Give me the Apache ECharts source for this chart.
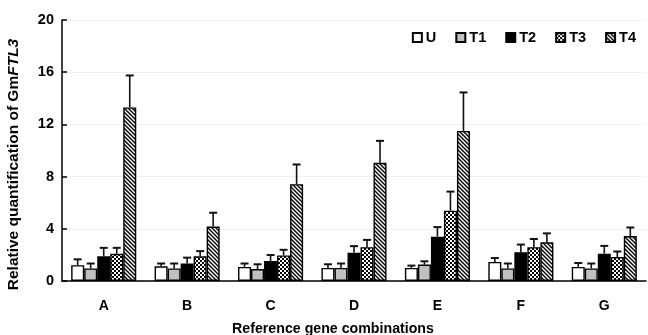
<!DOCTYPE html>
<html>
<head>
<meta charset="utf-8">
<script src="https://cdn.jsdelivr.net/npm/echarts@6/dist/echarts.min.js"></script>
<style>
  html, body { margin: 0; padding: 0; background: #fff; }
  #chart { width: 648px; height: 335px; }
</style>
</head>
<body>
<div id="chart"></div>
<script>
// categorias e valores
const categorias = ["A", "B", "C", "D", "E", "F", "G"];
const nomesSeries = ["U", "T1", "T2", "T3", "T4"];
const valoresU  = [1.21, 1.13, 1.08, 1.00, 1.00, 1.46, 1.08];
const valoresT1 = [0.96, 0.96, 0.91, 1.00, 1.26, 0.96, 0.96];
const valoresT2 = [1.89, 1.34, 1.53, 2.16, 3.40, 2.21, 2.09];
const valoresT3 = [2.09, 1.89, 1.96, 2.59, 5.39, 2.59, 1.83];
const valoresT4 = [13.3, 4.17, 7.42, 9.06, 11.5, 2.97, 3.45];
// topo das barras de erro
const erroU  = [1.66, 1.34, 1.34, 1.28, 1.18, 1.76, 1.38];
const erroT1 = [1.34, 1.34, 1.28, 1.34, 1.51, 1.34, 1.34];
const erroT2 = [2.54, 1.79, 1.99, 2.67, 4.13, 2.79, 2.69];
const erroT3 = [2.54, 2.29, 2.39, 3.15, 6.85, 3.22, 2.26];
const erroT4 = [15.75, 5.23, 8.93, 10.74, 14.45, 3.65, 4.10];
const ticksY = [0, 4, 8, 12, 16, 20];

const valores = [valoresU, valoresT1, valoresT2, valoresT3, valoresT4];
const erros = [erroU, erroT1, erroT2, erroT3, erroT4];

// padrões de preenchimento
function padraoXadrez() {
  const c = document.createElement("canvas");
  c.width = 4; c.height = 4;
  const ctx = c.getContext("2d");
  ctx.fillStyle = "#fff"; ctx.fillRect(0, 0, 4, 4);
  ctx.fillStyle = "#000";
  ctx.fillRect(0, 0, 2, 2);
  ctx.fillRect(2, 2, 2, 2);
  return { image: c, repeat: "repeat" };
}
function padraoListras() {
  const c = document.createElement("canvas");
  c.width = 4; c.height = 4;
  const ctx = c.getContext("2d");
  ctx.fillStyle = "#fff"; ctx.fillRect(0, 0, 4, 4);
  ctx.strokeStyle = "#000"; ctx.lineWidth = 1.4;
  ctx.beginPath();
  ctx.moveTo(-1, -1); ctx.lineTo(5, 5);
  ctx.moveTo(-1, 3); ctx.lineTo(1, 5);
  ctx.moveTo(3, -1); ctx.lineTo(5, 1);
  ctx.stroke();
  return { image: c, repeat: "repeat" };
}
const cores = ["#ffffff", "#c0c0c0", "#000000", padraoXadrez(), padraoListras()];

const fonte = "Liberation Sans";
const gapCategoria = 0.22;

const seriesBarras = nomesSeries.map((nome, i) => ({
  name: nome,
  type: "bar",
  data: valores[i],
  barGap: "0%",
  barCategoryGap: "22%",
  itemStyle: { color: cores[i], borderColor: "#000", borderWidth: 1.4 },
  emphasis: { disabled: true },
  z: 2
}));

const seriesErros = nomesSeries.map((nome, i) => ({
  type: "custom",
  name: nome + "-erro",
  data: categorias.map((c, j) => [j, valores[i][j], erros[i][j]]),
  z: 3,
  silent: true,
  renderItem: function (params, api) {
    const banda = api.size([1, 0])[0];
    const larguraBarra = banda * (1 - gapCategoria) / 5;
    const desloc = (i - 2) * larguraBarra;
    const base = api.coord([api.value(0), api.value(1)]);
    const topo = api.coord([api.value(0), api.value(2)]);
    const x = base[0] + desloc;
    const estilo = { stroke: "#111", lineWidth: 1.6 };
    return {
      type: "group",
      children: [
        { type: "line", shape: { x1: x, y1: base[1], x2: x, y2: topo[1] }, style: estilo },
        { type: "line", shape: { x1: x - 4, y1: topo[1], x2: x + 4, y2: topo[1] }, style: { stroke: "#111", lineWidth: 2 } }
      ]
    };
  }
}));

const chart = echarts.init(document.getElementById("chart"));
chart.setOption({
  animation: false,
  textStyle: { fontFamily: fonte },
  grid: { left: 62, right: 2, top: 20, bottom: 54, outerBoundsMode: "none", containLabel: false },
  legend: {
    data: nomesSeries.map((n) => ({ name: n, icon: "rect" })),
    top: 25,
    right: 7,
    itemWidth: 9,
    itemHeight: 9,
    itemGap: 19,
    selectedMode: false,
    textStyle: { fontFamily: fonte, fontWeight: "bold", fontSize: 14.5, color: "#000", padding: [0, 0, 0, -1] }
  },
  xAxis: {
    type: "category",
    data: categorias,
    name: "Reference gene combinations",
    nameLocation: "middle",
    nameGap: 41,
    nameTextStyle: { fontFamily: fonte, fontWeight: "bold", fontSize: 14.2, color: "#000", padding: [0, 42, 0, 0] },
    axisLine: { lineStyle: { color: "#000", width: 1.5 } },
    axisTick: { inside: true, length: 5, lineStyle: { color: "#000", width: 1.5 } },
    axisLabel: { fontFamily: fonte, fontWeight: "bold", fontSize: 14, color: "#000", margin: 18 }
  },
  yAxis: {
    type: "value",
    min: 0,
    max: 20,
    interval: 4,
    name: "{a|Relative quantification of Gm}{b|FTL3}",
    nameLocation: "middle",
    nameGap: 40,
    nameTextStyle: {
      padding: [0, 28, 0, 0],
      rich: {
        a: { fontFamily: fonte, fontWeight: "bold", fontSize: 15.5, color: "#000" },
        b: { fontFamily: fonte, fontWeight: "bold", fontStyle: "italic", fontSize: 15.5, color: "#000" }
      }
    },
    axisLine: { show: true, lineStyle: { color: "#000", width: 1.5 } },
    axisTick: { show: true, inside: true, length: 5, lineStyle: { color: "#000", width: 1.5 } },
    axisLabel: {
      fontFamily: fonte, fontWeight: "bold", fontSize: 14.5, color: "#000", margin: 8,
      formatter: (v) => (ticksY.includes(v) ? String(v) : "")
    },
    splitLine: { show: true, lineStyle: { color: "#f0f0f0", width: 1 } }
  },
  series: [...seriesBarras, ...seriesErros]
});
</script>
</body>
</html>
